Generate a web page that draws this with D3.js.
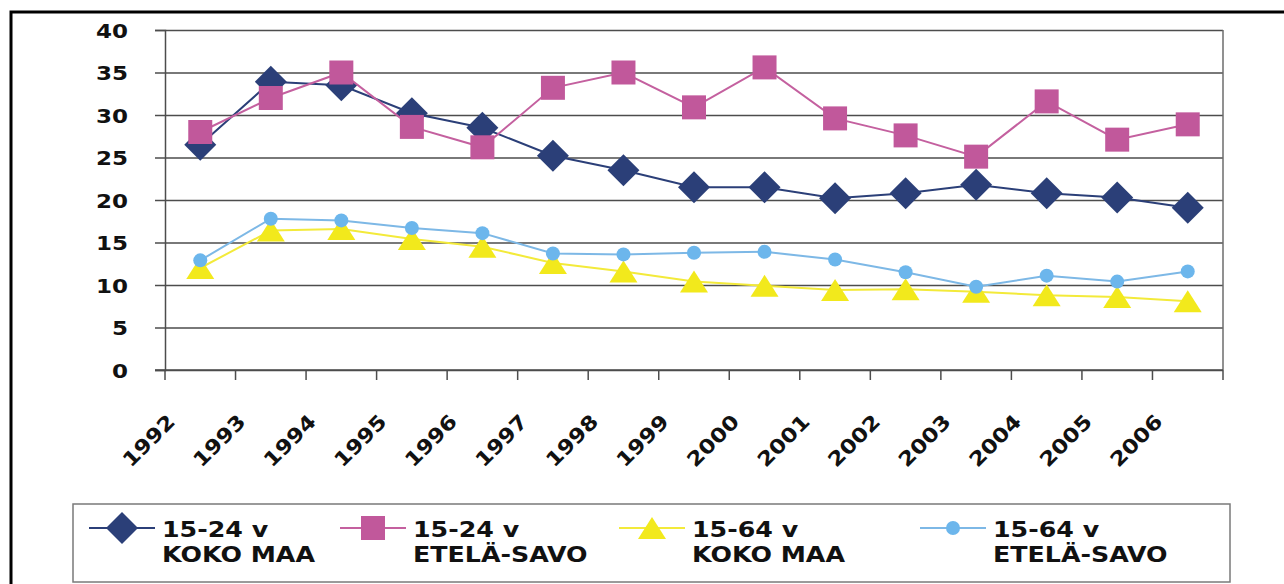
<!DOCTYPE html>
<html>
<head>
<meta charset="utf-8">
<script src="https://cdn.jsdelivr.net/npm/d3@7"></script>
<style>
  body { margin: 0; background: #fff; }
  text { font-family: "DejaVu Sans", Verdana, sans-serif; font-weight: bold; fill: #111; }
</style>
</head>
<body>
<div id="chart"></div>
<script>
// Data
const years = ["1992", "1993", "1994", "1995", "1996", "1997", "1998", "1999",
  "2000", "2001", "2002", "2003", "2004", "2005", "2006"];
const kokoMaa1524 = [26.5, 33.9, 33.5, 30.2, 28.5, 25.2, 23.5, 21.5, 21.5, 20.2, 20.8, 21.8, 20.8, 20.3, 19.1];
const etelaSavo1524 = [28.0, 32.0, 35.0, 28.6, 26.2, 33.2, 35.0, 30.9, 35.6, 29.6, 27.6, 25.1, 31.6, 27.1, 28.9];
const kokoMaa1564 = [12.0, 16.4, 16.6, 15.4, 14.5, 12.6, 11.6, 10.4, 9.9, 9.4, 9.5, 9.2, 8.8, 8.6, 8.1];
const etelaSavo1564 = [12.9, 17.8, 17.6, 16.7, 16.1, 13.7, 13.6, 13.8, 13.9, 13.0, 11.5, 9.8, 11.1, 10.4, 11.6];
const yTicks = [0, 5, 10, 15, 20, 25, 30, 35, 40];
const seriesNames = [
  ["15-24 v", "KOKO MAA"],
  ["15-24 v", "ETELÄ-SAVO"],
  ["15-64 v", "KOKO MAA"],
  ["15-64 v", "ETELÄ-SAVO"]
];

// Layout
const W = 1284, H = 584;
const PLOT = { LEFT: 165, RIGHT: 1223, TOP: 30, BOTTOM: 370 };
const STRETCH = 1.15; // text in the original is drawn a bit wide

const series = [
  { values: kokoMaa1524, line: "#2b3f78", fill: "#2b3f78", marker: "diamond" },
  { values: etelaSavo1524, line: "#c4609f", fill: "#c1589b", marker: "square" },
  { values: kokoMaa1564, line: "#f3ea3a", fill: "#f2e91c", marker: "triangle" },
  { values: etelaSavo1564, line: "#7db8e6", fill: "#6cb6ec", marker: "circle" }
];

const svg = d3.select("#chart").append("svg")
  .attr("width", W)
  .attr("height", H);

// Outer frame (left and top visible)
svg.append("path")
  .attr("d", "M11," + H + "V12H" + W)
  .attr("fill", "none")
  .attr("stroke", "#000")
  .attr("stroke-width", 3);

// Scales
const x = d3.scaleBand()
  .domain(years)
  .range([PLOT.LEFT, PLOT.RIGHT]);

const y = d3.scaleLinear()
  .domain([0, 40])
  .range([PLOT.BOTTOM, PLOT.TOP]);

// Gridlines
svg.append("g")
  .attr("transform", "translate(" + PLOT.LEFT + ",0)")
  .call(d3.axisLeft(y).tickValues(yTicks).tickSize(-(PLOT.RIGHT - PLOT.LEFT)).tickFormat(""))
  .call(g => g.select(".domain").remove())
  .call(g => g.selectAll("line").attr("stroke", "#4d4d4d").attr("stroke-width", 1.5));

// Plot border (right side)
svg.append("line")
  .attr("x1", PLOT.RIGHT).attr("x2", PLOT.RIGHT)
  .attr("y1", PLOT.TOP).attr("y2", PLOT.BOTTOM)
  .attr("stroke", "#6d6d6d")
  .attr("stroke-width", 1.5);

// Y axis
const yAxisGroup = svg.append("g")
  .attr("transform", "translate(" + PLOT.LEFT + ",0)")
  .call(d3.axisLeft(y).tickValues(yTicks).tickSize(10).tickPadding(0));
yAxisGroup.select(".domain").attr("stroke", "#4d4d4d").attr("stroke-width", 1.5);
yAxisGroup.selectAll(".tick line").attr("stroke", "#4d4d4d").attr("stroke-width", 1.5);
yAxisGroup.selectAll(".tick text")
  .attr("x", null)
  .attr("dy", null)
  .attr("transform", "translate(-37,7) scale(" + STRETCH + ",1)")
  .style("font-size", "20px")
  .attr("fill", "#111");

// X axis with ticks on category boundaries
const xAxisGroup = svg.append("g")
  .attr("transform", "translate(0," + PLOT.BOTTOM + ")");
xAxisGroup.append("line")
  .attr("x1", PLOT.LEFT - 10).attr("x2", PLOT.RIGHT)
  .attr("stroke", "#4d4d4d")
  .attr("stroke-width", 1.5);
xAxisGroup.selectAll(".xtick")
  .data(years.concat(["end"]))
  .enter().append("line")
  .attr("class", "xtick")
  .attr("x1", (d, i) => i < years.length ? x(d) : PLOT.RIGHT)
  .attr("x2", (d, i) => i < years.length ? x(d) : PLOT.RIGHT)
  .attr("y1", 0)
  .attr("y2", 10)
  .attr("stroke", "#4d4d4d")
  .attr("stroke-width", 1.5);

svg.append("g").selectAll(".xlabel")
  .data(years)
  .enter().append("text")
  .attr("class", "xlabel")
  .attr("text-anchor", "end")
  .attr("transform", d => "translate(" + (x(d) + x.bandwidth() / 2 - 24) + ",423) rotate(-45) scale(" + STRETCH + ",1)")
  .style("font-size", "20px")
  .text(d => d);

// Marker shapes
function markerPath(type) {
  if (type === "diamond") return "M0,-16L16,0L0,16L-16,0Z";
  if (type === "square") return "M-12,-12H12V12H-12Z";
  if (type === "triangle") return "M0,-11L14,11L-14,11Z";
  return d3.symbol(d3.symbolCircle, Math.PI * 49)();
}

const line = d3.line()
  .x((d, i) => x(years[i]) + x.bandwidth() / 2)
  .y(d => y(d));

// Series: lines first, then markers, in legend order
series.forEach(s => {
  const g = svg.append("g");
  g.append("path")
    .datum(s.values)
    .attr("fill", "none")
    .attr("stroke", s.line)
    .attr("stroke-width", 2)
    .attr("d", line);
  g.selectAll(".mark")
    .data(s.values)
    .enter().append("path")
    .attr("class", "mark")
    .attr("transform", (d, i) => "translate(" + (x(years[i]) + x.bandwidth() / 2) + "," + y(d) + ")")
    .attr("d", markerPath(s.marker))
    .attr("fill", s.fill);
});

// Legend
const legend = svg.append("g");
legend.append("rect")
  .attr("x", 73).attr("y", 504)
  .attr("width", 1230 - 73).attr("height", 582 - 504)
  .attr("fill", "none")
  .attr("stroke", "#7a7a7a")
  .attr("stroke-width", 1.5);

const legendX = [122, 373, 652, 953];
series.forEach((s, i) => {
  const item = legend.append("g").attr("transform", "translate(" + legendX[i] + ",528)");
  item.append("line")
    .attr("x1", -33).attr("x2", 33)
    .attr("stroke", s.line)
    .attr("stroke-width", 2);
  item.append("path")
    .attr("d", markerPath(s.marker))
    .attr("fill", s.fill);
  const t = item.append("text")
    .attr("transform", "translate(40,9) scale(" + STRETCH + ",1)")
    .style("font-size", "22px");
  t.append("tspan").attr("x", 0).attr("dy", 0).text(seriesNames[i][0]);
  t.append("tspan").attr("x", 0).attr("dy", 25).text(seriesNames[i][1]);
});
</script>
</body>
</html>
